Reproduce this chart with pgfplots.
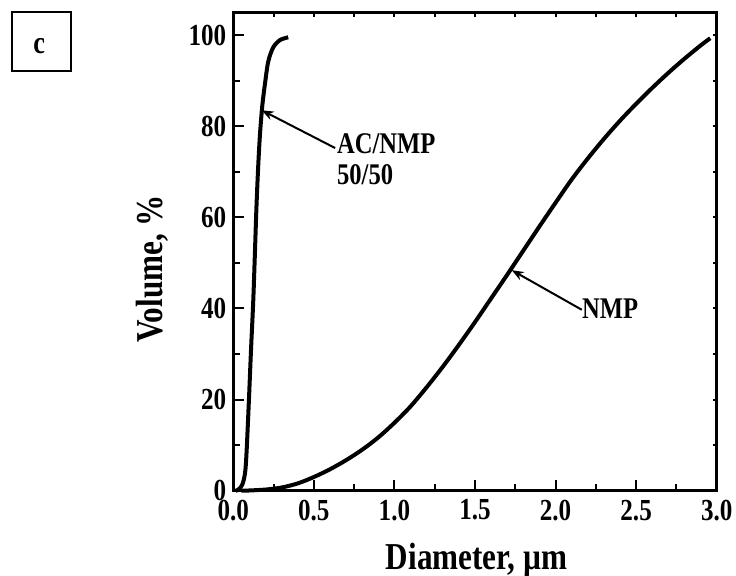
\documentclass[border=0pt]{standalone}
\usepackage{pgfplots}
\pgfplotsset{compat=1.18}
\usepackage{fontspec}
\setmainfont{Liberation Serif}[FakeStretch=0.82]
\usetikzlibrary{arrows.meta}
\pgfplotstableread{
x y
0.015 0
0.025 0.1
0.040 0.5
0.055 1.3
0.065 2.4
0.075 4.5
0.083 8.9
0.097 19.9
0.110 30.9
0.124 41.8
0.134 52.0
0.144 62.5
0.155 71.5
0.166 78.4
0.180 84.5
0.197 89.4
0.217 94.2
0.248 97.3
0.290 98.9
0.341 99.5
}\acnmp
\pgfplotstableread{
x y
0.05 0
0.10 0.05
0.20 0.25
0.30 0.7
0.40 1.6
0.50 3.0
0.60 4.7
0.70 6.7
0.80 9.0
0.90 11.7
1.00 14.9
1.10 18.5
1.20 22.7
1.30 27.2
1.40 32.0
1.50 37.0
1.60 42.2
1.70 47.4
1.80 52.7
1.90 58.0
2.00 63.2
2.10 68.3
2.20 72.9
2.30 77.2
2.40 81.2
2.50 84.9
2.60 88.4
2.70 91.7
2.80 94.8
2.90 97.7
2.96 99.3
}\nmp
\begin{document}
\begin{tikzpicture}
\useasboundingbox (-116.65pt,-42.15pt) rectangle ++(368pt,287.5pt);
\begin{axis}[
  at={(0,0)}, anchor=south west,
  scale only axis, width=241.7pt, height=239pt,
  xmin=0, xmax=3, ymin=0, ymax=104.9,
  clip=false,
  axis line style={line width=1.25pt},
  tick style={line width=1pt, black},
  tick align=inside,
  xtick pos=left, ytick pos=left,
  xtick={0,0.5,1,1.5,2,2.5,3}, ytick={0,20,40,60,80,100},
  minor x tick num=1, minor y tick num=1,
  major tick length=5.5pt, minor tick length=3.5pt,
  ticklabel style={font=\fontsize{15.3}{15.3}\selectfont\bfseries},
  /pgf/number format/assume math mode=true,
  xticklabel style={/pgf/number format/fixed, /pgf/number format/fixed zerofill, /pgf/number format/precision=1, yshift=-1pt},
]
\addplot[line width=2pt, smooth, tension=0.5] table {\acnmp};
\addplot[line width=2pt, smooth] table {\nmp};
\node[anchor=base west, inner sep=0, font=\fontsize{15}{15}\selectfont\bfseries] at (axis cs:0.6418,73.9) {AC/NMP};
\node[anchor=base west, inner sep=0, font=\fontsize{15}{15}\selectfont\bfseries] at (axis cs:0.6418,67.3) {50/50};
\draw[line width=1pt, -{Stealth[length=6pt,width=4.5pt]}] (axis cs:0.632,75.2) -- (axis cs:0.176,83.5);
\node[anchor=base west, inner sep=0, font=\fontsize{15}{15}\selectfont\bfseries] at (axis cs:2.163,37.9) {NMP};
\draw[line width=1pt, -{Stealth[length=6pt,width=4.5pt]}] (axis cs:2.163,39.7) -- (axis cs:1.728,48.4);
\node[anchor=base, font=\fontsize{19}{19}\selectfont\bfseries] at ([yshift=-39.2pt]rel axis cs:0.503,0) {Diameter, µm};
\node[rotate=90, anchor=center, font=\fontsize{19}{19}\selectfont\bfseries] at ([xshift=-40.4pt]rel axis cs:0,0.4638) {Volume, \%};
\draw[line width=0.85pt] ([xshift=-110.5pt,yshift=210pt]rel axis cs:0,0) rectangle ++(29.2pt,29.2pt);
\node[anchor=base, inner sep=0, font=\fontsize{16}{16}\selectfont\bfseries] at ([xshift=-97pt,yshift=218.7pt]rel axis cs:0,0) {c};
\end{axis}
\begin{axis}[
  at={(0,0)}, anchor=south west,
  scale only axis, width=241.7pt, height=239pt,
  xmin=0, xmax=3, ymin=0, ymax=104.9,
  axis line style={line width=1.25pt},
  tick style={line width=1pt, black},
  tick align=inside,
  xtick pos=right, ytick pos=right,
  xtick={0,0.25,...,3}, ytick={0,10,...,100},
  xticklabels={}, yticklabels={},
  major tick length=2pt,
]
\end{axis}
\end{tikzpicture}
\end{document}
